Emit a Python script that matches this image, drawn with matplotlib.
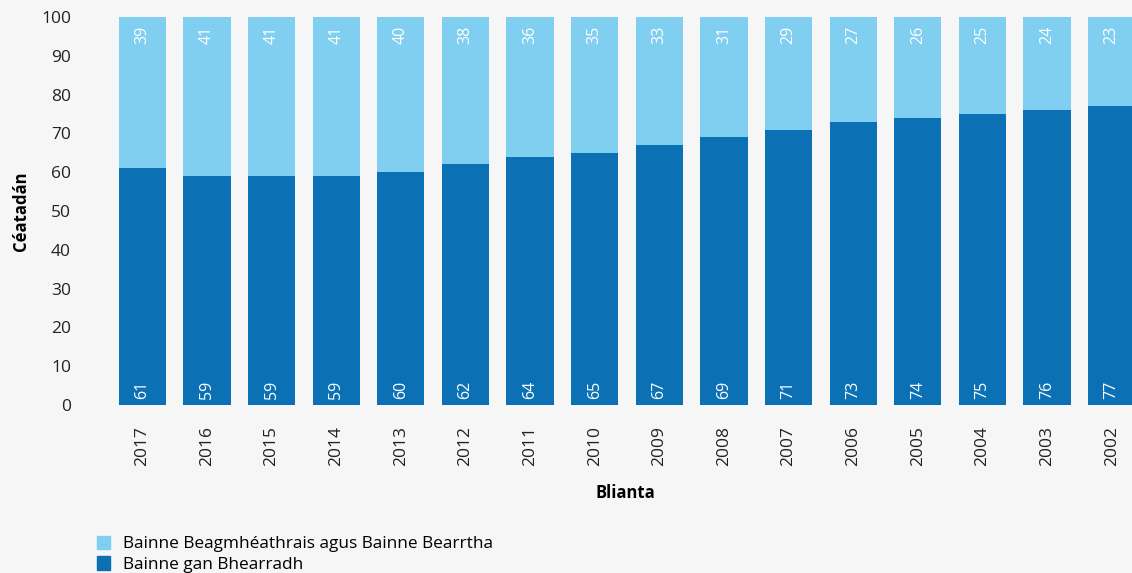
import numpy as np
import matplotlib.pyplot as plt
from matplotlib.patches import Patch

# Data
years = ["2017", "2016", "2015", "2014", "2013", "2012", "2011", "2010",
         "2009", "2008", "2007", "2006", "2005", "2004", "2003", "2002"]
gan_bhearradh = [61, 59, 59, 59, 60, 62, 64, 65, 67, 69, 71, 73, 74, 75, 76, 77]
beagmheathrais = [39, 41, 41, 41, 40, 38, 36, 35, 33, 31, 29, 27, 26, 25, 24, 23]

plt.rcParams['font.family'] = ['Open Sans', 'DejaVu Sans']

dark = "#0c71b4"
light = "#80cef0"
bg = "#f6f6f6"

fig = plt.figure(figsize=(11.32, 5.73), dpi=100, facecolor=bg)
ax = fig.add_axes([110 / 1132, 1 - 405 / 573, 1034 / 1132, 388 / 573])
ax.set_facecolor(bg)

x = np.arange(len(years))
ax.bar(x, gan_bhearradh, width=0.73, color=dark)
ax.bar(x, beagmheathrais, width=0.73, bottom=gan_bhearradh, color=light)

for i in range(len(years)):
    ax.text(x[i], 1.6, str(gan_bhearradh[i]), rotation=90, color="white",
            ha="center", va="bottom", fontsize=11.5)
    ax.text(x[i], 97.8, str(beagmheathrais[i]), rotation=90, color="white",
            ha="center", va="top", fontsize=11.5)

ax.set_xlim(-0.5, len(years) - 0.5)
ax.set_ylim(0, 100)
ax.set_yticks(range(0, 101, 10))
ax.set_xticks(x)
ax.set_xticklabels(years, rotation=90)
ax.tick_params(axis="both", length=0, labelsize=12.5, colors="#222222")
ax.tick_params(axis="x", pad=15)
ax.tick_params(axis="y", pad=28)
for s in ax.spines.values():
    s.set_visible(False)

ax.set_ylabel("Céatadán", fontsize=12, fontweight="bold", labelpad=8)
fig.text(625 / 1132, 1 - 493 / 573, "Blianta", fontsize=12, fontweight="bold",
         ha="center", va="center")

handles = [Patch(color=light, label="Bainne Beagmhéathrais agus Bainne Bearrtha"),
           Patch(color=dark, label="Bainne gan Bhearradh")]
fig.legend(handles=handles, loc="upper left", bbox_to_anchor=(88 / 1132, 1 - 527 / 573),
           frameon=False, fontsize=12.4, handlelength=0.8, handleheight=0.8,
           handletextpad=0.75, labelspacing=0.25, borderpad=0)

plt.savefig("out.png", dpi=100, facecolor=bg)
